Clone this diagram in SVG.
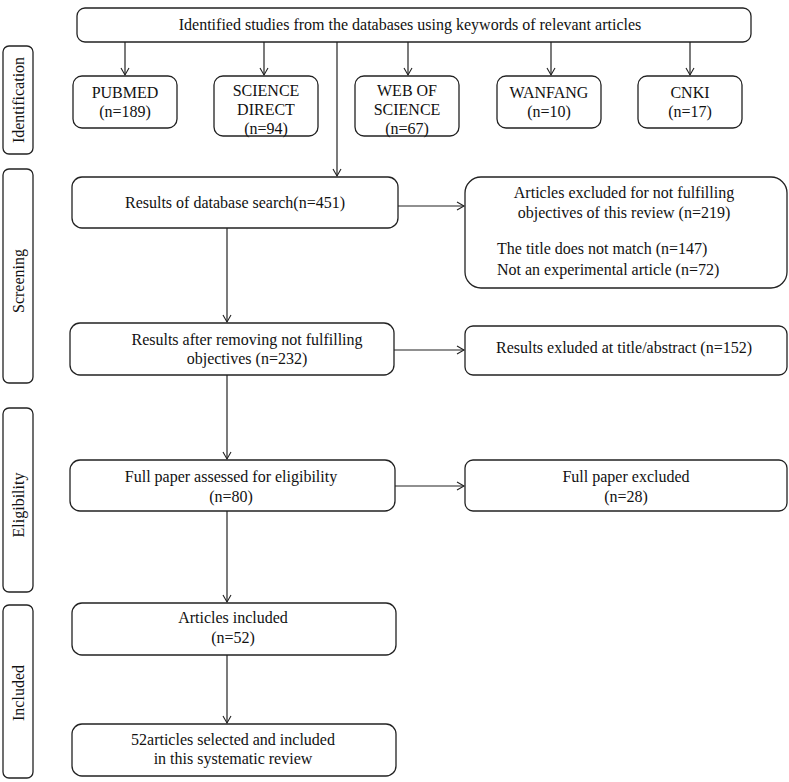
<svg xmlns="http://www.w3.org/2000/svg" width="789" height="782" viewBox="0 0 789 782">
<defs>
<marker id="arr" markerWidth="10" markerHeight="10" refX="8" refY="5" orient="auto" markerUnits="userSpaceOnUse">
<polyline points="1,1 8,5 1,9" fill="none" stroke="#222" stroke-width="1.1"/>
</marker>
<style>
rect{fill:#fff;stroke:#222;stroke-width:1.3}
text{font-family:"Liberation Serif","Times New Roman",serif;font-size:16px;fill:#111;text-anchor:middle}
.c line{stroke:#222;stroke-width:1.2;fill:none}
.l{text-anchor:start}
</style>
</defs>
<rect width="789" height="782" style="fill:#fff;stroke:none"/>
<g id="side-identification"><rect x="3" y="46" width="30" height="108" rx="6"/><text transform="translate(24,100) rotate(-90)">Identification</text></g>
<g id="side-screening"><rect x="3" y="169" width="30" height="214" rx="6"/><text transform="translate(24,281) rotate(-90)">Screening</text></g>
<g id="side-eligibility"><rect x="3" y="408" width="30" height="184" rx="6"/><text transform="translate(24,505) rotate(-90)">Eligibility</text></g>
<g id="side-included"><rect x="3" y="605" width="30" height="173" rx="6"/><text transform="translate(24,693) rotate(-90)">Included</text></g>

<g id="top"><rect x="77" y="8" width="674" height="34" rx="8"/><text x="410" y="30">Identified  studies from the databases using keywords of relevant  articles</text></g>
<g id="pubmed"><rect x="73" y="76" width="104" height="52" rx="9"/><text x="125" y="98">PUBMED</text><text x="125" y="117">(n=189)</text></g>
<g id="sciencedirect"><rect x="214" y="76" width="104" height="60" rx="9"/><text x="266" y="96">SCIENCE</text><text x="266" y="115">DIRECT</text><text x="266" y="134">(n=94)</text></g>
<g id="wos"><rect x="355" y="76" width="104" height="60" rx="9"/><text x="407" y="96">WEB OF</text><text x="407" y="115">SCIENCE</text><text x="407" y="134">(n=67)</text></g>
<g id="wanfang"><rect x="497" y="76" width="104" height="52" rx="9"/><text x="549" y="98">WANFANG</text><text x="549" y="117">(n=10)</text></g>
<g id="cnki"><rect x="638" y="76" width="104" height="52" rx="9"/><text x="690" y="98">CNKI</text><text x="690" y="117">(n=17)</text></g>

<g id="search"><rect x="72" y="177" width="326" height="51" rx="10"/><text x="235" y="208">Results of database search(n=451)</text></g>
<g id="excluded1"><rect x="465" y="177" width="322" height="111" rx="16"/><text x="624" y="198">Articles  excluded for not fulfilling</text><text x="624" y="218">objectives of this review  (n=219)</text><text class="l" x="497" y="254">The title  does not match (n=147)</text><text class="l" x="497" y="275">Not an experimental  article  (n=72)</text></g>
<g id="removing"><rect x="70" y="323" width="324" height="52" rx="10"/><text x="247" y="345">Results after removing  not fulfilling</text><text x="247" y="364">objectives (n=232)</text></g>
<g id="excluded2"><rect x="465" y="326" width="322" height="49" rx="8"/><text x="624" y="353">Results exluded at title/abstract  (n=152)</text></g>
<g id="fullpaper"><rect x="70" y="460" width="325" height="51" rx="10"/><text x="231" y="482">Full  paper assessed for eligibility</text><text x="231" y="502">(n=80)</text></g>
<g id="excluded3"><rect x="465" y="460" width="322" height="51" rx="8"/><text x="626" y="482">Full paper excluded</text><text x="626" y="502">(n=28)</text></g>
<g id="included"><rect x="72" y="603" width="324" height="52" rx="10"/><text x="233" y="623">Articles  included</text><text x="233" y="643">(n=52)</text></g>
<g id="final"><rect x="72" y="724" width="324" height="52" rx="10"/><text x="233" y="745">52articles  selected and included</text><text x="233" y="764">in this  systematic review</text></g>

<g id="connectors" class="c">
<line x1="125" y1="42" x2="125" y2="75" marker-end="url(#arr)"/>
<line x1="264" y1="42" x2="264" y2="75" marker-end="url(#arr)"/>
<line x1="408" y1="42" x2="408" y2="75" marker-end="url(#arr)"/>
<line x1="551" y1="42" x2="551" y2="75" marker-end="url(#arr)"/>
<line x1="690" y1="42" x2="690" y2="75" marker-end="url(#arr)"/>
<line x1="337" y1="42" x2="337" y2="176" marker-end="url(#arr)"/>
<line x1="398" y1="206" x2="464" y2="206" marker-end="url(#arr)"/>
<line x1="227" y1="228" x2="227" y2="322" marker-end="url(#arr)"/>
<line x1="394" y1="350" x2="464" y2="350" marker-end="url(#arr)"/>
<line x1="227" y1="375" x2="227" y2="459" marker-end="url(#arr)"/>
<line x1="395" y1="486" x2="464" y2="486" marker-end="url(#arr)"/>
<line x1="227" y1="511" x2="227" y2="602" marker-end="url(#arr)"/>
<line x1="227" y1="655" x2="227" y2="723" marker-end="url(#arr)"/>
</g>
</svg>
